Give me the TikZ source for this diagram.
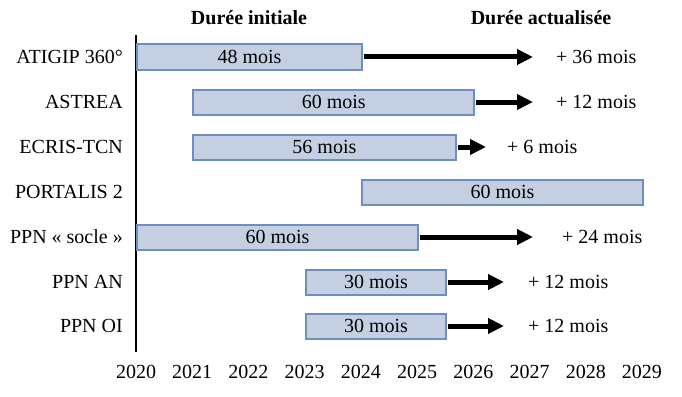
\documentclass[tikz,border=0pt]{standalone}
\usepackage{fontspec}
\setmainfont{Liberation Serif}
\usetikzlibrary{arrows.meta}
\definecolor{barfill}{HTML}{C4CFE2}
\definecolor{barline}{HTML}{6D8EBF}
\begin{document}
\begin{tikzpicture}[x=1pt,y=-1pt,
  every node/.style={font=\fontsize{20}{23}\selectfont, inner sep=0pt},
  bar/.style={draw=barline, fill=barfill, line width=2pt, minimum height=25pt, anchor=west},
  arr/.style={draw=black, line width=5pt, -{Triangle[length=16pt,width=15pt]}, shorten <=1pt},
  lab/.style={anchor=east},
  plus/.style={anchor=west},
  yr/.style={anchor=center},
  ttl/.style={font=\fontsize{20}{23}\selectfont\bfseries},
  axisline/.style={line width=2pt}]
\useasboundingbox (0,0) rectangle (682,396);
% titles
\node[ttl] (t1) at (249,18) {Durée initiale};
\node[ttl] (t2) at (541,18) {Durée actualisée};
% axis
\coordinate (axtop) at (136,35);
\coordinate (axbot) at (136,352);
\draw[axisline] (axtop) -- (axbot);
% row labels
\node[lab] (l1) at (123,57) {ATIGIP 360°};
\node[lab] (l2) at (123,102) {ASTREA};
\node[lab] (l3) at (123,147) {ECRIS-TCN};
\node[lab] (l4) at (123,192) {PORTALIS 2};
\node[lab] (l5) at (123,237) {PPN «~socle~»};
\node[lab] (l6) at (123,282) {PPN AN};
\node[lab] (l7) at (123,326) {PPN OI};
% bars
\node[bar, minimum width=224.9pt] (b1) at (136,57) {48 mois};
\node[bar, minimum width=281.1pt] (b2) at (192.2,102) {60 mois};
\node[bar, minimum width=262.4pt] (b3) at (192.2,147) {56 mois};
\node[bar, minimum width=281.1pt] (b4) at (360.9,192) {60 mois};
\node[bar, minimum width=281.1pt] (b5) at (136,237) {60 mois};
\node[bar, minimum width=140.5pt] (b6) at (304.7,282) {30 mois};
\node[bar, minimum width=140.5pt] (b7) at (304.7,326) {30 mois};
% arrow ends
\coordinate (e1) at (533,57);
\coordinate (e2) at (533,102);
\coordinate (e3) at (486,147);
\coordinate (e5) at (533,237);
\coordinate (e6) at (504,282);
\coordinate (e7) at (504,326);
\draw[arr] (b1.east) -- (e1);
\draw[arr] (b2.east) -- (e2);
\draw[arr] (b3.east) -- (e3);
\draw[arr] (b5.east) -- (e5);
\draw[arr] (b6.east) -- (e6);
\draw[arr] (b7.east) -- (e7);
% extensions
\node[plus] (p1) at (556,57) {+ 36 mois};
\node[plus] (p2) at (556,102) {+ 12 mois};
\node[plus] (p3) at (507,147) {+ 6 mois};
\node[plus] (p5) at (562,237) {+ 24 mois};
\node[plus] (p6) at (528,282) {+ 12 mois};
\node[plus] (p7) at (528,326) {+ 12 mois};
% years
\foreach \i in {0,...,9} {
  \pgfmathsetmacro{\xx}{136+\i*56.22}
  \pgfmathtruncatemacro{\yy}{2020+\i}
  \node[yr] (y\i) at (\xx,372) {\yy};
}
\end{tikzpicture}
\end{document}
